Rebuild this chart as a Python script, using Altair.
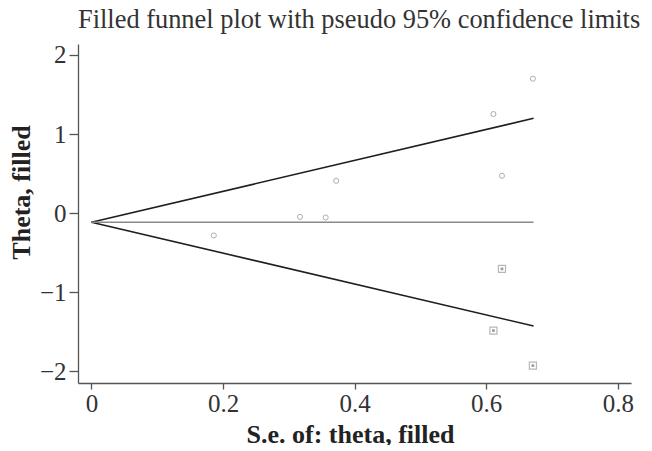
import altair as alt
import pandas as pd

# Observed studies
obs_se = [0.186, 0.317, 0.356, 0.372, 0.611, 0.624, 0.671]
obs_theta = [-0.282, -0.047, -0.055, 0.409, 1.253, 0.472, 1.700]
# Filled (imputed) studies
fill_se = [0.611, 0.624, 0.671]
fill_theta = [-1.485, -0.705, -1.928]
# Funnel (pseudo 95% limits) and pooled estimate
line_se = [0.0, 0.672]
upper = [-0.115, 1.199]
lower = [-0.115, -1.427]
pooled = [-0.115, -0.115]

x_ticks = [0, 0.2, 0.4, 0.6, 0.8]
y_ticks = [-2, -1, 0, 1, 2]

obs = pd.DataFrame({"se": obs_se, "theta": obs_theta})
fil = pd.DataFrame({"se": fill_se, "theta": fill_theta})
lines = pd.DataFrame({
    "se": line_se * 3,
    "theta": upper + lower + pooled,
    "which": ["upper"] * 2 + ["lower"] * 2 + ["pooled"] * 2,
})

FONT = "Liberation Serif"
xs = alt.Scale(domain=[-0.0204, 0.8201], nice=False, zero=False)
ys = alt.Scale(domain=[-2.148, 2.139], nice=False, zero=False)

xenc = alt.X("se:Q", scale=xs, axis=alt.Axis(
    values=x_ticks, format="~g", title="S.e. of: theta, filled",
    grid=False, tickSize=6, labelPadding=2, titlePadding=5,
    titleFontWeight="bold", titleFontSize=26, labelFontSize=25,
    titleX=272, titleAlign="center"))
yenc = alt.Y("theta:Q", scale=ys, axis=alt.Axis(
    values=y_ticks, format="~g", title="Theta, filled",
    grid=False, tickSize=9, labelPadding=3,
    titleFontWeight="bold", titleFontSize=26, labelFontSize=25,
    titleX=-57, titleY=148, titleAngle=-90, titleAlign="center",
    titleBaseline="middle"))

funnel = alt.Chart(lines).transform_filter(alt.datum.which != "pooled").mark_line(
    color="#1e1e1e", strokeWidth=1.6).encode(x=xenc, y=yenc, detail="which:N")
mid = alt.Chart(lines).transform_filter(alt.datum.which == "pooled").mark_line(
    color="#8a8a8a", strokeWidth=1.6).encode(x="se:Q", y="theta:Q")
pts = alt.Chart(obs).mark_point(shape="circle", filled=False, size=26,
    color="#8c8c8c", strokeWidth=1).encode(x="se:Q", y="theta:Q")
sq = alt.Chart(fil).mark_point(shape="square", filled=False, size=50,
    color="#9a9a9a", strokeWidth=1.2).encode(x="se:Q", y="theta:Q")
sq_in = alt.Chart(fil).mark_point(shape="square", filled=True, size=7,
    color="#9a9a9a", opacity=1).encode(x="se:Q", y="theta:Q")

chart = alt.layer(funnel, mid, pts, sq, sq_in).properties(
    width=553, height=339,
    title=alt.TitleParams("Filled funnel plot with pseudo 95% confidence limits",
                          anchor="start", frame="group", fontSize=26.4,
                          font=FONT, fontWeight="normal", color="#333333",
                          offset=10),
    autosize=alt.AutoSizeParams(type="none"),
    padding={"left": 70, "top": 36, "right": 13, "bottom": 62},
    background="white",
).configure_view(stroke=None).configure_axis(
    labelFont=FONT, titleFont=FONT, labelColor="#333333", titleColor="#222222",
    domainColor="#555555", tickColor="#555555", domainWidth=1.3, tickWidth=1.3,
)

chart.save("out.html", embed_options={"renderer": "svg", "actions": False})
